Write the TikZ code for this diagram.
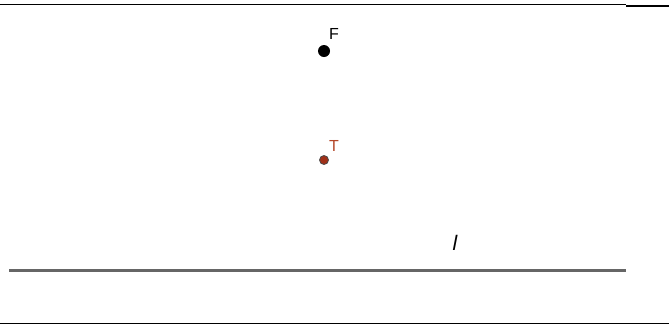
\documentclass[tikz,border=0pt]{standalone}
\usepackage{fontspec}
\setmainfont{Liberation Sans}
\begin{document}
\begin{tikzpicture}[x=1pt,y=-1pt,
    pt/.style={circle,inner sep=0pt,minimum size=#1},
    lbl/.style={inner sep=0pt,font=\fontsize{16}{16}\selectfont}]
    \useasboundingbox (0,0) rectangle (669,325);
    % frame lines
    \coordinate (tl) at (0,4);
    \coordinate (tm) at (626,4);
    \coordinate (tm2) at (626,5.5);
    \coordinate (tr) at (669,5.5);
    \draw[line width=1pt] (tl) -- (tm);
    \draw[line width=2pt] (tm2) -- (tr);
    \coordinate (bl) at (0,323.5);
    \coordinate (br) at (669,323.5);
    \draw[line width=1.5pt] (bl) -- (br);
    % line l
    \coordinate (l1) at (9,270);
    \coordinate (l2) at (626,270);
    \draw[line width=3pt,color=black!60] (l1) -- (l2);
    \node[lbl,font=\fontsize{21}{21}\selectfont\itshape] (ll) at (455,243) {l};
    % points
    \node[pt=12pt,fill=black] (F) at (324,51) {};
    \node[lbl,anchor=south west] (Fl) at (329,40) {F};
    \node[pt=9pt,fill={rgb,255:red,160;green,48;blue,24},draw=black!70,line width=0.8pt] (T) at (324,160) {};
    \node[lbl,anchor=south west,text={rgb,255:red,180;green,70;blue,40}] (Tl) at (329,152) {T};
\end{tikzpicture}
\end{document}
